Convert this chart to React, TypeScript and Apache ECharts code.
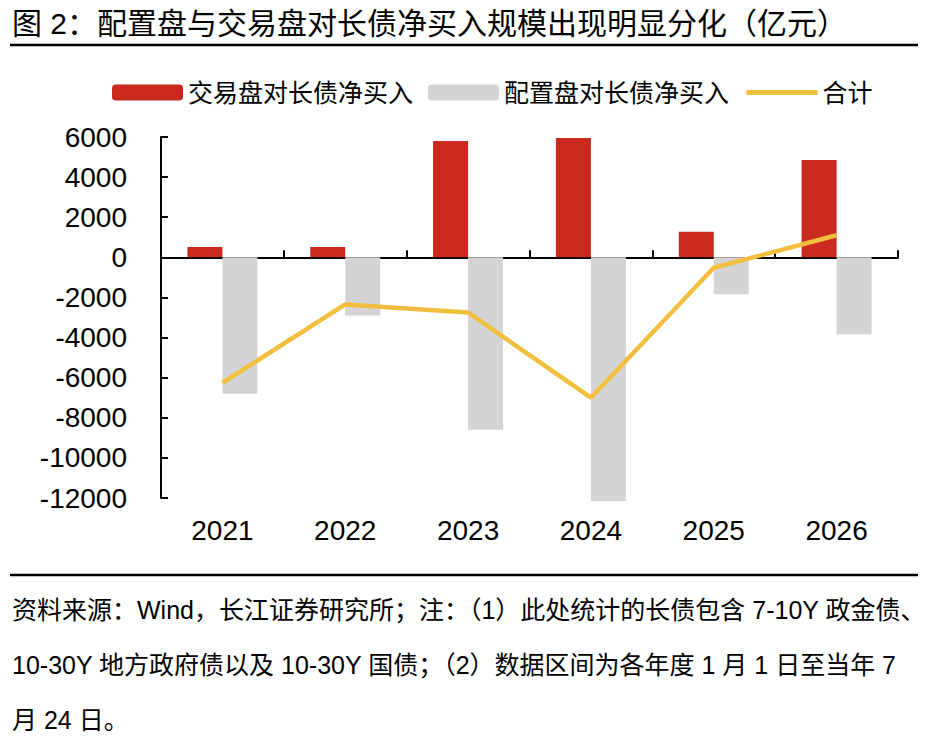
import React, { useEffect, useRef } from "react";
import * as echarts from "echarts";

const categories = ["2021", "2022", "2023", "2024", "2025", "2026"];
const tradingNet = [520, 520, 5800, 5950, 1270, 4850];
const allocationNet = [-6800, -2900, -8600, -12150, -1840, -3830];
const totalNet = [-6260, -2350, -2750, -7000, -520, 1100];

const seriesNames = ["交易盘对长债净买入", "配置盘对长债净买入", "合计"];
const titleText = "图 2：配置盘与交易盘对长债净买入规模出现明显分化（亿元）";
const footnoteLines = [
  "资料来源：Wind，长江证券研究所；注：（1）此处统计的长债包含 7-10Y 政金债、",
  "10-30Y 地方政府债以及 10-30Y 国债；（2）数据区间为各年度 1 月 1 日至当年 7",
  "月 24 日。",
];

const FONT = "'Liberation Sans', Arial, 'Noto Sans CJK SC', sans-serif";

export default function App() {
  const ref = useRef<HTMLDivElement>(null);
  useEffect(() => {
    document.body.style.margin = "0";
    if (!ref.current) return;
    const chart = echarts.init(ref.current, null, { renderer: "svg" });
    const option: any = {
      animation: false,
      backgroundColor: "#ffffff",
      textStyle: { fontFamily: FONT, color: "#000" },
      legend: {
        left: 107,
        top: 75,
        itemWidth: 71,
        itemHeight: 16,
        itemGap: 15,
        textStyle: { fontSize: 25, color: "#000", fontFamily: FONT },
        data: [
          { name: seriesNames[0] },
          { name: seriesNames[1] },
          { name: seriesNames[2], itemStyle: { opacity: 0 }, lineStyle: { width: 5 } },
        ],
      },
      grid: { left: 161, right: 27, top: 137, bottom: 255, containLabel: false },
      xAxis: [
        {
          type: "category",
          data: categories,
          position: "bottom",
          axisLine: { show: false, onZero: false },
          axisTick: { show: false },
          axisLabel: { fontSize: 28, color: "#000", margin: 18, fontFamily: FONT },
        },
        {
          type: "category",
          data: categories,
          position: "bottom",
          axisLine: { show: true, onZero: true, lineStyle: { color: "#000", width: 2 } },
          axisTick: { show: true, inside: true, length: 7, lineStyle: { color: "#000", width: 2 } },
          axisLabel: { show: false },
        },
      ],
      yAxis: {
        type: "value",
        min: -12000,
        max: 6000,
        interval: 2000,
        axisLine: { show: true, lineStyle: { color: "#000", width: 2 } },
        axisTick: { show: true, inside: true, length: 7, lineStyle: { color: "#000", width: 2 } },
        splitLine: { show: false },
        axisLabel: {
          fontSize: 28,
          color: "#000",
          margin: 34,
          fontFamily: FONT,
          formatter: (v: number) => String(v),
        },
      },
      series: [
        {
          name: seriesNames[0],
          type: "bar",
          xAxisIndex: 0,
          data: tradingNet,
          barWidth: 35,
          barGap: "0%",
          clip: false,
          itemStyle: { color: "#C9291F" },
          z: 2,
        },
        {
          name: seriesNames[1],
          type: "bar",
          xAxisIndex: 0,
          data: allocationNet,
          barWidth: 35,
          barGap: "0%",
          clip: false,
          itemStyle: { color: "#D4D4D4" },
          z: 2,
        },
        {
          name: seriesNames[2],
          type: "line",
          xAxisIndex: 0,
          data: totalNet,
          symbol: "none",
          lineStyle: { color: "#F2BE3E", width: 4.5 },
          itemStyle: { color: "#F2BE3E" },
          z: 5,
        },
      ],
      graphic: [
        {
          type: "text",
          left: 12,
          top: 8,
          style: { text: titleText, fontSize: 30, fill: "#000", fontFamily: FONT },
        },
        {
          type: "line",
          shape: { x1: 10, y1: 45, x2: 918, y2: 45 },
          style: { stroke: "#000", lineWidth: 2.5 },
        },
        {
          type: "line",
          shape: { x1: 10, y1: 575, x2: 918, y2: 575 },
          style: { stroke: "#000", lineWidth: 2.5 },
        },
        ...footnoteLines.map((t, i) => ({
          type: "text",
          left: 12,
          top: 597 + i * 55,
          style: { text: t, fontSize: 25, fill: "#000", fontFamily: FONT },
        })),
      ],
    };
    chart.setOption(option);
    return () => chart.dispose();
  }, []);
  return <div ref={ref} style={{ width: 925, height: 753 }} />;
}
